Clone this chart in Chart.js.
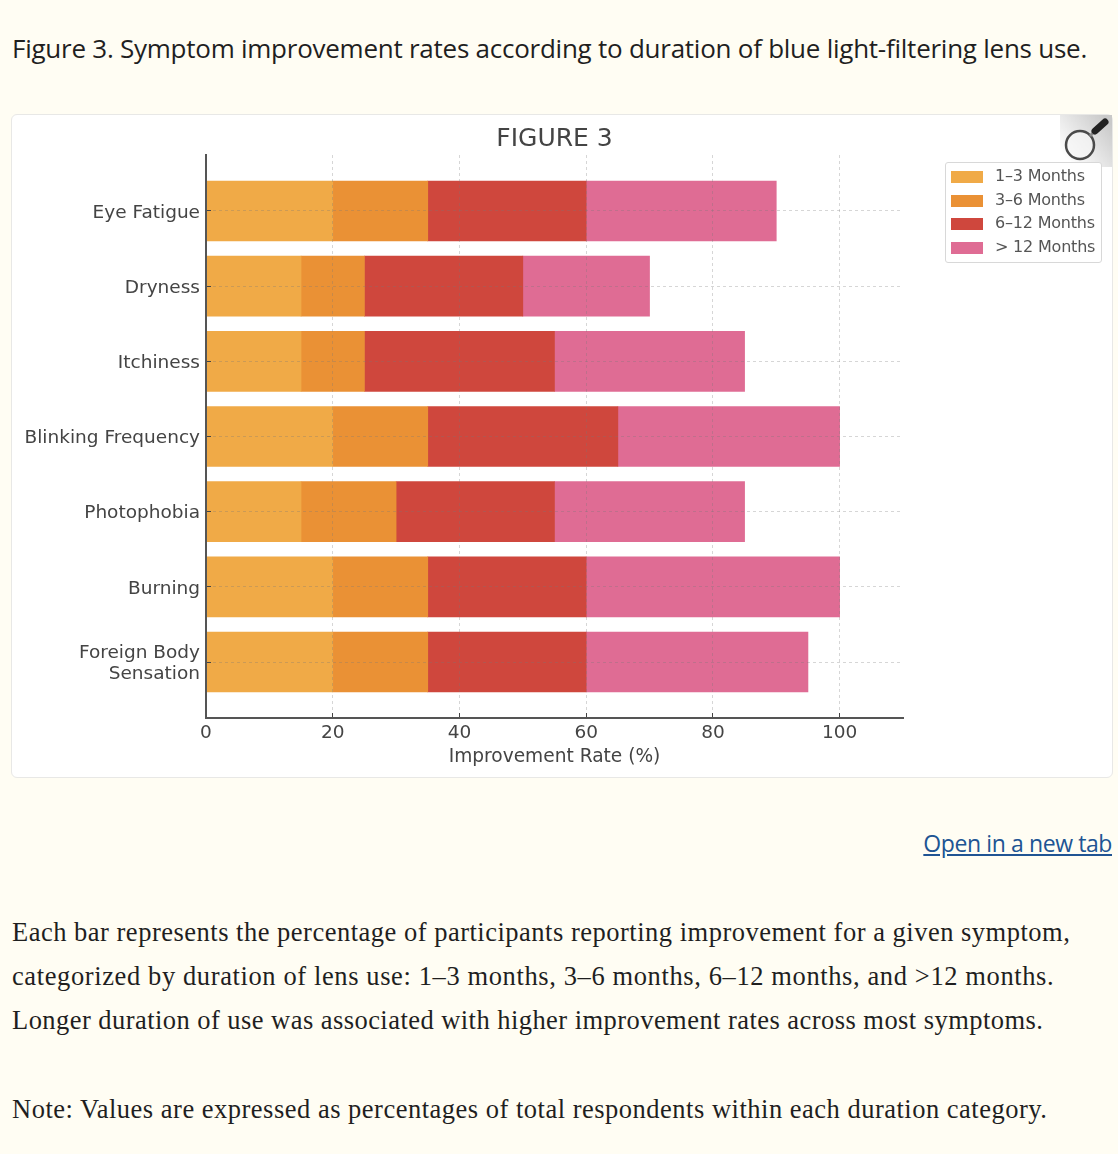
<!DOCTYPE html>
<html>
<head>
<meta charset="utf-8">
<title>Figure 3</title>
<script src="https://cdn.jsdelivr.net/npm/chart.js@4"></script>
<style>
  html, body { margin: 0; padding: 0; background: #fffdf3; }
  body { position: relative; width: 1118px; height: 1154px; overflow: hidden; color: #222; }
  .abs { position: absolute; white-space: nowrap; }
  #caption { left: 12px; top: 29px; font: 26px/38px "Open Sans", sans-serif; letter-spacing: -0.25px; color: #1f1f1f; }
  #card { left: 11px; top: 114px; width: 1100px; height: 662px; background: #fff; border: 1px solid #e8e8e6; border-radius: 6px; }
  #chart { position: absolute; left: 11px; top: 114px; }
  #zoomIcon { left: 1060px; top: 115px; }
  #legend { left: 945px; top: 162px; width: 155px; height: 98px; border: 1px solid #d8d8d8; border-radius: 3px; background: #fff;
    font: 16px/23.6px "DejaVu Sans", sans-serif; color: #555; padding-top: 1px; }
  #legend div { position: relative; height: 23.6px; padding-left: 49px; white-space: nowrap; letter-spacing: -0.2px; }
  #legend i { position: absolute; left: 5px; top: 7px; width: 32px; height: 12px; }
  #link { right: 6px; top: 828px; font: 23px/30px "Open Sans", sans-serif; letter-spacing: -0.4px; color: #205493; text-decoration: underline; }
  .body { left: 12px; font: 26.5px/44px "Liberation Serif", serif; color: #1f1f1f; }
</style>
</head>
<body>
<div class="abs" id="caption">Figure 3. Symptom improvement rates according to duration of blue light-filtering lens use.</div>
<div class="abs" id="card"></div>
<canvas id="chart" width="1102" height="664"></canvas>
<svg class="abs" id="zoomIcon" width="52" height="52" viewBox="0 0 52 52">
  <defs>
    <linearGradient id="cornerFill" x1="0" y1="1" x2="1" y2="0.2">
      <stop offset="0.15" stop-color="#ffffff"/>
      <stop offset="1" stop-color="#c9c9c9"/>
    </linearGradient>
  </defs>
  <rect x="0" y="0" width="52" height="52" fill="url(#cornerFill)"/>
  <circle cx="20" cy="30" r="14" fill="#f6f6f6" fill-opacity="0.7" stroke="#4a4a4a" stroke-width="2.5"/>
  <line x1="30" y1="21" x2="34" y2="17" stroke="#888" stroke-width="3"/>
  <line x1="35" y1="16" x2="45" y2="7" stroke="#222" stroke-width="7" stroke-linecap="round"/>
</svg>
<div class="abs" id="legend"></div>
<a class="abs" id="link" href="#">Open in a new tab</a>
<div class="abs body" style="top:910px;letter-spacing:0.5px">Each bar represents the percentage of participants reporting improvement for a given symptom,</div>
<div class="abs body" style="top:954px;letter-spacing:0.61px">categorized by duration of lens use: 1–3 months, 3–6 months, 6–12 months, and &gt;12 months.</div>
<div class="abs body" style="top:998px;letter-spacing:0.45px">Longer duration of use was associated with higher improvement rates across most symptoms.</div>
<div class="abs body" style="top:1087px;letter-spacing:0.5px">Note: Values are expressed as percentages of total respondents within each duration category.</div>

<script>
var categories = ["Eye Fatigue", "Dryness", "Itchiness", "Blinking Frequency", "Photophobia", "Burning", ["Foreign Body", "Sensation"]];
var seriesNames = ["1–3 Months", "3–6 Months", "6–12 Months", "> 12 Months"];
var months1to3 = [20, 15, 15, 20, 15, 20, 20];
var months3to6 = [15, 10, 10, 15, 15, 15, 15];
var months6to12 = [25, 25, 30, 30, 25, 25, 25];
var monthsOver12 = [30, 20, 30, 35, 30, 40, 35];
var seriesColors = ["#f0aa47", "#ea9135", "#cf473d", "#df6c94"];
var xTicks = [0, 20, 40, 60, 80, 100];

var inkColor = "#444444";
var gridColor = "rgba(120,120,120,0.3)";

// 系列ごとのデータセットを作る
var allSeries = [months1to3, months3to6, months6to12, monthsOver12];
var datasets = allSeries.map(function(values, s) {
  return {
    label: seriesNames[s],
    backgroundColor: seriesColors[s],
    borderWidth: 0,
    barThickness: 60,
    data: values.map(function(v, i) { return { x: v, y: i }; })
  };
});

// 凡例はHTMLで置く（枠線付きで表の右上に出すため）
var legendBox = document.getElementById("legend");
seriesNames.forEach(function(name, s) {
  var row = document.createElement("div");
  var swatch = document.createElement("i");
  swatch.style.background = seriesColors[s];
  row.appendChild(swatch);
  row.appendChild(document.createTextNode(name));
  legendBox.appendChild(row);
});

var ctx = document.getElementById("chart").getContext("2d");
var myChart = new Chart(ctx, {
  type: "bar",
  data: { datasets: datasets },
  options: {
    indexAxis: "y",
    responsive: false,
    animation: false,
    layout: { padding: { left: 0, right: 210, top: 0, bottom: 0 } },
    plugins: {
      legend: { display: false },
      tooltip: { enabled: false },
      title: {
        display: true,
        text: "FIGURE 3",
        fullSize: false,
        color: inkColor,
        font: { family: "DejaVu Sans", size: 25, weight: "normal" },
        padding: { top: 10, bottom: 1 }
      }
    },
    scales: {
      x: {
        type: "linear",
        stacked: true,
        min: 0,
        max: 110,
        afterBuildTicks: function(axis) {
          axis.ticks = xTicks.map(function(v) { return { value: v }; });
        },
        afterFit: function(axis) { axis.height = 60; },
        // 目盛りは内向きなのでtickLengthを負にする
        grid: { color: gridColor, z: 1, lineWidth: 1, tickColor: inkColor, tickLength: -5 },
        border: { color: "#555555", width: 2, dash: [3, 3], z: 2 },
        ticks: { color: inkColor, padding: 9, maxRotation: 0, font: { family: "DejaVu Sans", size: 18.5 } },
        title: {
          display: true,
          text: "Improvement Rate (%)",
          color: inkColor,
          font: { family: "DejaVu Sans", size: 18.6 },
          padding: { top: 2, bottom: 10 }
        }
      },
      y: {
        type: "linear",
        stacked: true,
        reverse: true,
        offset: false,
        min: -0.745,
        max: 6.745,
        afterFit: function(axis) { axis.width = 195; },
        grid: { offset: false, color: gridColor, z: 1, lineWidth: 1, tickColor: inkColor, tickLength: -5 },
        border: { color: "#555555", width: 2, dash: [3, 3], z: 2 },
        ticks: {
          stepSize: 1,
          includeBounds: false,
          color: inkColor,
          padding: 11,
          labelOffset: 2,
          font: { family: "DejaVu Sans", size: 18.5, lineHeight: 1.14 },
          callback: function(value) { return categories[value]; }
        }
      }
    }
  }
});
</script>
</body>
</html>
